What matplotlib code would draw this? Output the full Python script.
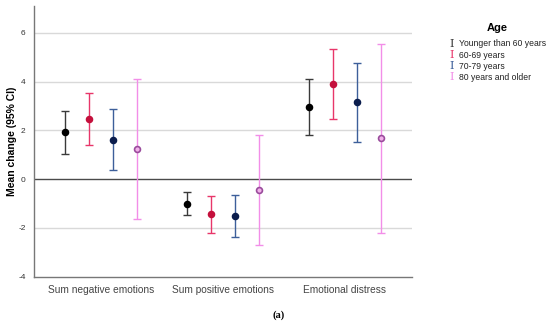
import numpy as np
import matplotlib
matplotlib.use("Agg")
import matplotlib.pyplot as plt

plt.rcParams['font.family'] = ['Liberation Sans', 'DejaVu Sans']

categories = ["Sum negative emotions", "Sum positive emotions", "Emotional distress"]
groups = ["Younger than 60 years", "60-69 years", "70-79 years", "80 years and older"]

# means and 95% CI bounds per age group, one value per category
means = {
    "Younger than 60 years": [1.93, -1.01, 2.95],
    "60-69 years": [2.46, -1.43, 3.91],
    "70-79 years": [1.62, -1.52, 3.16],
    "80 years and older": [1.23, -0.43, 1.68],
}
upper = {
    "Younger than 60 years": [2.80, -0.53, 4.10],
    "60-69 years": [3.55, -0.70, 5.35],
    "70-79 years": [2.88, -0.67, 4.77],
    "80 years and older": [4.10, 1.82, 5.56],
}
lower = {
    "Younger than 60 years": [1.05, -1.49, 1.80],
    "60-69 years": [1.38, -2.19, 2.47],
    "70-79 years": [0.38, -2.38, 1.54],
    "80 years and older": [-1.64, -2.69, -2.20],
}

bar_colors = ["#3a3a3a", "#e8366a", "#3d5f9a", "#f28ee8"]
dot_colors = ["#000000", "#c4103c", "#0b1d4d", "#f2b0ea"]
dot_edges = ["#000000", "#c4103c", "#0b1d4d", "#9a4c9c"]

fig = plt.figure(figsize=(5.5, 3.25), dpi=100)
ax = fig.add_axes([0.0618, 0.1486, 0.687, 0.833])

x = np.arange(len(categories))
offsets = np.array([-1.5, -0.5, 0.5, 1.5]) * 0.197

for i, g in enumerate(groups):
    m = np.array(means[g])
    lo = m - np.array(lower[g])
    hi = np.array(upper[g]) - m
    ax.errorbar(x + offsets[i], m, yerr=[lo, hi], fmt='none', ecolor=bar_colors[i],
                elinewidth=1.0, capsize=3, capthick=1.0, zorder=3)
    ax.scatter(x + offsets[i], m, s=18, color=dot_colors[i], edgecolors=dot_edges[i],
               linewidths=1.2, zorder=4)

ax.set_xlim(-0.55, 2.55)
ax.set_ylim(-4, 7.1)
ax.set_yticks([-4, -2, 0, 2, 4, 6])
ax.set_yticklabels(["-4", "-2", "0", "2", "4", "6"], fontsize=6, color="#333333")
ax.set_xticks(x)
ax.set_xticklabels(categories, fontsize=7.3, color="#444444")
ax.tick_params(axis='x', length=0, pad=6)
ax.tick_params(axis='y', length=0, pad=6)

for yv in [-2, 2, 4, 6]:
    ax.axhline(yv, color="#d9d9d9", lw=1.0, zorder=1)
ax.axhline(0, color="#4a4a4a", lw=1.0, zorder=2)

for s in ["top", "right"]:
    ax.spines[s].set_visible(False)
for s in ["left", "bottom"]:
    ax.spines[s].set_color("#777777")
    ax.spines[s].set_linewidth(1.0)

ax.set_ylabel("Mean change (95% CI)", fontsize=7.5, fontweight='bold', labelpad=1)

# legend
fig.text(497 / 550, 1 - 28 / 325, "Age", fontsize=8, fontweight='bold', ha='center', va='center')
for i, g in enumerate(groups):
    yy = 1 - (44 + i * 11.1) / 325
    fig.text(452 / 550, yy, "I", family="DejaVu Serif", fontsize=8, color=bar_colors[i],
             ha='center', va='center')
    fig.text(459 / 550, yy, g, fontsize=6.2, color="#222222", ha='left', va='center')

fig.text(279 / 550, 1 - 315 / 325, "(a)", family="Liberation Serif", fontsize=7.5,
         fontweight='bold', ha='center', va='center')

fig.savefig("out.png", dpi=100)
